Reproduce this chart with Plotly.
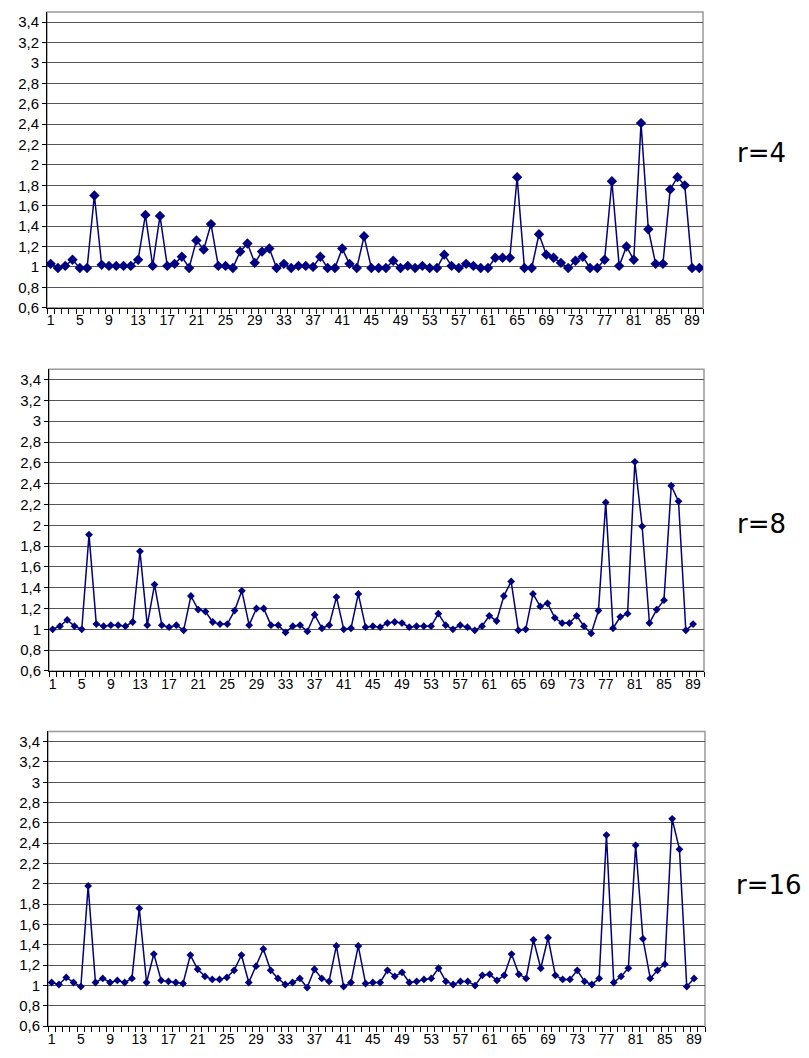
import plotly.graph_objects as go

categories = list(range(1, 91))

r4 = [1.03, 0.99, 1.01, 1.07, 0.99, 0.99, 1.70, 1.02, 1.01, 1.01,
      1.01, 1.01, 1.07, 1.51, 1.01, 1.50, 1.01, 1.03, 1.10, 0.99,
      1.26, 1.17, 1.42, 1.01, 1.01, 0.99, 1.15, 1.23, 1.04, 1.15,
      1.18, 0.99, 1.03, 0.99, 1.01, 1.01, 1.00, 1.10, 0.99, 0.99,
      1.18, 1.03, 0.99, 1.30, 0.99, 0.99, 0.99, 1.06, 0.99, 1.01,
      0.99, 1.01, 0.99, 0.99, 1.12, 1.01, 0.99, 1.03, 1.01, 0.99,
      0.99, 1.09, 1.09, 1.09, 1.88, 0.99, 0.99, 1.32, 1.12, 1.09,
      1.04, 0.99, 1.06, 1.10, 0.99, 0.99, 1.07, 1.84, 1.01, 1.20,
      1.07, 2.41, 1.37, 1.03, 1.03, 1.76, 1.88, 1.80, 0.99, 0.99]

r8 = [1.00, 1.03, 1.09, 1.03, 1.00, 1.91, 1.05, 1.03, 1.04, 1.04,
      1.03, 1.07, 1.75, 1.04, 1.43, 1.04, 1.02, 1.04, 0.99, 1.32,
      1.19, 1.17, 1.07, 1.05, 1.05, 1.18, 1.37, 1.04, 1.20, 1.20,
      1.04, 1.04, 0.97, 1.03, 1.04, 0.98, 1.14, 1.01, 1.04, 1.31,
      1.00, 1.01, 1.34, 1.02, 1.03, 1.02, 1.06, 1.07, 1.06, 1.02,
      1.03, 1.03, 1.03, 1.15, 1.04, 1.00, 1.04, 1.02, 0.99, 1.03,
      1.13, 1.08, 1.32, 1.46, 0.99, 1.00, 1.34, 1.22, 1.25, 1.11,
      1.06, 1.06, 1.13, 1.03, 0.96, 1.18, 2.22, 1.01, 1.12, 1.15,
      2.61, 1.99, 1.06, 1.19, 1.28, 2.38, 2.23, 0.99, 1.05]

r16 = [1.03, 1.01, 1.08, 1.03, 0.99, 1.98, 1.03, 1.07, 1.03, 1.05,
       1.03, 1.07, 1.76, 1.03, 1.31, 1.05, 1.04, 1.03, 1.02, 1.30,
       1.16, 1.09, 1.06, 1.06, 1.08, 1.15, 1.30, 1.03, 1.19, 1.36,
       1.15, 1.07, 1.01, 1.03, 1.07, 0.98, 1.16, 1.07, 1.04, 1.39,
       0.99, 1.03, 1.39, 1.02, 1.03, 1.03, 1.15, 1.09, 1.13, 1.03,
       1.04, 1.06, 1.07, 1.17, 1.04, 1.01, 1.04, 1.04, 1.00, 1.10,
       1.11, 1.05, 1.10, 1.31, 1.11, 1.07, 1.45, 1.17, 1.47, 1.10,
       1.06, 1.06, 1.15, 1.04, 1.01, 1.07, 2.48, 1.03, 1.09, 1.17,
       2.38, 1.46, 1.07, 1.15, 1.21, 2.64, 2.34, 0.99, 1.07]

panel_labels = ["r=4", "r=8", "r=16"]
y_tickvals = [0.6, 0.8, 1.0, 1.2, 1.4, 1.6, 1.8, 2.0, 2.2, 2.4, 2.6, 2.8, 3.0, 3.2, 3.4]
y_ticktext = ["0,6", "0,8", "1", "1,2", "1,4", "1,6", "1,8", "2", "2,2", "2,4",
              "2,6", "2,8", "3", "3,2", "3,4"]
x_tickvals = list(range(1, 91, 4))

# page body has an 8px margin, so the figure is drawn 8px smaller and offset
OFF = 8
W, H = 809 - OFF, 1058 - OFF
series = [r4, r8, r16]
# target pixel boxes in the window (left, right, top, bottom)
boxes = [(47, 703, 12, 310), (49, 704, 372, 676), (48, 705, 737, 1034)]
marker_sizes = [8, 6, 6]
label_y = [154, 528, 892]
label_x = [761, 761, 769]

NAVY = "#000080"
fig = go.Figure()
layout = dict(width=W, height=H, paper_bgcolor="white", plot_bgcolor="white",
              margin=dict(l=0, r=0, t=0, b=0), showlegend=False,
              font=dict(family="Liberation Sans, Arial, sans-serif", size=15, color="black"))

shapes = []
annotations = []
for k, (vals, box) in enumerate(zip(series, boxes)):
    l, r, t, b = [v - OFF for v in box]
    xa = "xaxis" if k == 0 else f"xaxis{k+1}"
    ya = "yaxis" if k == 0 else f"yaxis{k+1}"
    xref = "x" if k == 0 else f"x{k+1}"
    yref = "y" if k == 0 else f"y{k+1}"
    fig.add_trace(go.Scatter(
        x=categories[:len(vals)], y=vals, mode="lines+markers",
        xaxis=xref, yaxis=yref,
        line=dict(color=NAVY, width=1.5),
        marker=dict(symbol="diamond", size=marker_sizes[k], color=NAVY),
        hoverinfo="skip"))
    layout[xa] = dict(
        domain=[l / W, r / W], anchor=yref, range=[0.5, 90.5],
        tickmode="array", tickvals=x_tickvals, ticktext=[str(v) for v in x_tickvals],
        ticks="", showgrid=False, zeroline=False,
        showline=True, linecolor="black", linewidth=1,
        tickfont=dict(size=14, color="black"),
        minor=dict(tickmode="array", tickvals=[i + 0.5 for i in range(0, 91)],
                   ticks="outside", ticklen=5, tickcolor="black", tickwidth=1,
                   showgrid=False),
        fixedrange=True)
    layout[ya] = dict(
        domain=[1 - b / H, 1 - t / H], anchor=xref, range=[0.6, 3.5],
        tickmode="array", tickvals=y_tickvals, ticktext=y_ticktext,
        ticks="outside", ticklen=4, tickcolor="black",
        showgrid=True, gridcolor="#555555", gridwidth=1, zeroline=False,
        showline=True, linecolor="black", linewidth=1,
        tickfont=dict(size=15, color="black"), fixedrange=True)
    shapes.append(dict(type="rect", xref=f"{xref} domain", yref=f"{yref} domain",
                       x0=0, x1=1, y0=0, y1=1, line=dict(color="#999999", width=1.5),
                       layer="below"))
    annotations.append(dict(text=panel_labels[k], xref="paper", yref="paper",
                            x=(label_x[k] - OFF) / W, y=1 - (label_y[k] - OFF) / H,
                            xanchor="center", yanchor="middle",
                            showarrow=False,
                            font=dict(family="DejaVu Sans, sans-serif", size=26, color="black")))

layout["shapes"] = shapes
layout["annotations"] = annotations
fig.update_layout(**layout)
fig.write_html("out.html")
